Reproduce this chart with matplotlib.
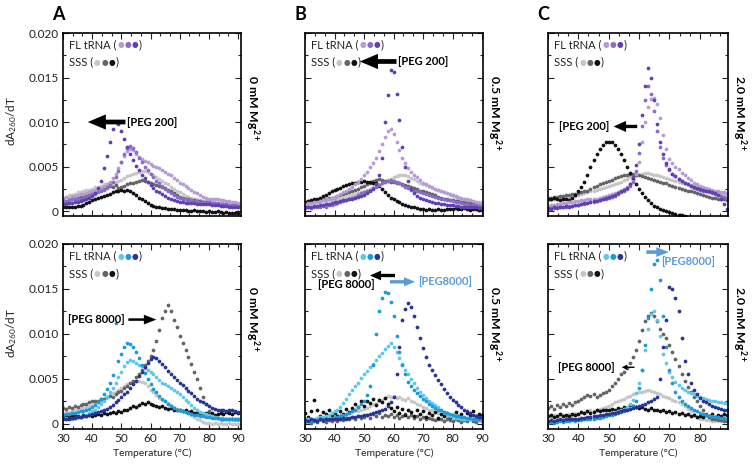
import matplotlib
matplotlib.use('Agg')
import matplotlib.pyplot as plt
from matplotlib.ticker import AutoMinorLocator
import numpy as np

plt.rcParams['font.family'] = ['Lato', 'DejaVu Sans']
plt.rcParams['mathtext.fontset'] = 'custom'
plt.rcParams['mathtext.rm'] = 'Lato'
plt.rcParams['mathtext.bf'] = 'Lato:bold'
plt.rcParams['mathtext.default'] = 'regular'

# temperature grid (deg C), one reading per degree
temps = list(range(30, 91))

# dA260/dT readings, in units of 1e-4
# ---- top row, PEG 200 ----
a1_fl_light = [15, 16, 15, 17, 17, 18, 19, 19, 20, 21, 22, 24, 24, 26, 28, 30, 33, 37, 42, 48,
               55, 62, 67, 70, 68, 64, 61, 58, 56, 55, 53, 51, 50, 48, 46, 44, 42, 40, 37, 35,
               32, 30, 28, 26, 24, 21, 20, 18, 16, 15, 14, 14, 13, 13, 12, 12, 11, 11, 10, 10, 9]
a1_fl_mid = [12, 11, 12, 13, 13, 14, 14, 15, 16, 17, 18, 19, 21, 22, 24, 26, 29, 33, 38, 45,
             55, 64, 71, 73, 71, 66, 60, 55, 50, 46, 42, 38, 34, 31, 28, 25, 22, 20, 18, 16,
             15, 14, 13, 12, 12, 11, 11, 10, 10, 10, 10, 9, 9, 9, 8, 8, 8, 7, 7, 6, 6]
a1_fl_dark = [8, 8, 9, 9, 10, 10, 11, 12, 13, 15, 17, 20, 26, 34, 48, 62, 78, 92, 100, 98,
              90, 81, 72, 64, 57, 51, 46, 41, 37, 33, 29, 26, 23, 21, 19, 17, 15, 13, 12, 11,
              10, 10, 9, 9, 9, 9, 8, 8, 8, 8, 8, 7, 7, 7, 6, 6, 6, 5, 5, 5, 4]
a1_sss_light = [15, 16, 18, 18, 19, 21, 21, 22, 24, 24, 25, 27, 27, 28, 30, 30, 31, 32, 33, 34,
                35, 37, 39, 41, 42, 43, 44, 45, 45, 44, 42, 40, 38, 36, 34, 32, 30, 27, 25, 23,
                21, 19, 17, 16, 15, 14, 13, 12, 11, 11, 10, 10, 9, 9, 8, 8, 8, 7, 7, 7, 6]
a1_sss_mid = [9, 10, 12, 13, 13, 15, 16, 17, 18, 19, 20, 21, 23, 24, 25, 27, 28, 27, 29, 26,
              27, 28, 30, 31, 32, 33, 34, 35, 34, 33, 31, 30, 29, 28, 27, 26, 24, 22, 20, 18,
              16, 15, 14, 13, 12, 12, 11, 11, 10, 10, 9, 9, 9, 8, 8, 8, 8, 7, 7, 7, 6]
a1_sss_dark = [5, 4, 5, 4, 5, 6, 6, 7, 9, 10, 12, 13, 15, 16, 17, 18, 19, 21, 22, 23,
               24, 23, 24, 22, 20, 18, 15, 13, 11, 9, 7, 6, 5, 4, 3, 3, 2, 2, 2, 1,
               1, 1, 1, 0, 0, 1, 0, 0, 0, -1, 0, -1, -1, 0, -1, -2, -1, -2, -2, -2, -2]

b1_fl_light = [8, 9, 9, 10, 10, 11, 12, 13, 14, 15, 16, 17, 19, 21, 23, 25, 27, 30, 33, 36,
               40, 44, 49, 54, 60, 67, 75, 83, 90, 92, 86, 78, 69, 60, 54, 48, 44, 41, 38, 35,
               32, 30, 28, 27, 25, 24, 22, 21, 20, 19, 18, 17, 16, 15, 14, 13, 12, 11, 10, 9, 8]
b1_fl_mid = [3, 4, 3, 5, 4, 5, 6, 5, 7, 7, 8, 9, 10, 11, 12, 13, 15, 16, 18, 20,
             21, 23, 24, 26, 27, 29, 31, 33, 34, 35, 34, 33, 31, 29, 27, 26, 24, 23, 22, 21,
             20, 19, 18, 17, 16, 15, 14, 13, 12, 12, 11, 10, 10, 9, 8, 8, 7, 7, 6, 6, 5]
b1_fl_dark = [4, 5, 5, 6, 6, 7, 7, 8, 8, 9, 10, 10, 11, 12, 12, 13, 14, 15, 16, 17,
              18, 20, 22, 25, 30, 40, 60, 100, 130, 158, 156, 132, 102, 72, 50, 34, 25, 20, 17, 15,
              13, 12, 11, 10, 9, 9, 8, 8, 7, 7, 7, 6, 6, 5, 5, 5, 4, 4, 4, 3, 3]
b1_sss_light = [8, 8, 9, 9, 10, 10, 11, 11, 12, 12, 12, 13, 14, 15, 16, 17, 18, 19, 20, 21,
                22, 24, 25, 27, 28, 30, 31, 33, 35, 36, 38, 39, 40, 41, 40, 39, 37, 36, 34, 32,
                30, 29, 28, 26, 25, 24, 22, 21, 20, 18, 17, 16, 15, 14, 13, 12, 12, 11, 10, 10, 10]
b1_sss_mid = [10, 11, 11, 12, 12, 13, 13, 14, 15, 15, 16, 17, 18, 19, 20, 21, 22, 24, 25, 27,
              28, 30, 32, 34, 35, 36, 35, 34, 34, 33, 33, 32, 31, 30, 29, 28, 27, 26, 25, 23,
              22, 21, 20, 19, 18, 16, 15, 14, 13, 12, 12, 11, 11, 10, 10, 9, 9, 9, 8, 8, 8]
b1_sss_dark = [10, 11, 12, 13, 14, 15, 17, 18, 20, 22, 24, 25, 26, 28, 29, 30, 31, 32, 33, 33,
               34, 33, 33, 32, 31, 28, 25, 21, 18, 15, 13, 11, 10, 8, 7, 6, 5, 4, 3, 2,
               2, 1, 2, 1, 1, 2, 1, 1, 2, 2, 2, 3, 2, 2, 3, 2, 1, 2, 2, 1, 2]

c1_fl_light = [6, 7, 7, 8, 8, 9, 9, 10, 10, 11, 11, 12, 12, 13, 13, 14, 14, 15, 16, 17,
               18, 19, 20, 21, 23, 25, 27, 30, 34, 42, 55, 78, 100, 117, 126, 127, 120, 104, 85, 70,
               58, 54, 50, 47, 43, 40, 37, 35, 32, 30, 28, 27, 26, 25, 24, 23, 22, 21, 21, 20, 20]
c1_fl_mid = [2, 3, 3, 4, 4, 5, 5, 6, 6, 7, 7, 8, 8, 9, 10, 10, 11, 12, 13, 14,
             15, 16, 17, 19, 21, 23, 25, 28, 33, 45, 65, 95, 125, 140, 132, 112, 90, 72, 60, 52,
             46, 42, 39, 36, 34, 32, 30, 28, 26, 25, 24, 23, 22, 21, 20, 19, 18, 17, 16, 15, 14]
c1_fl_dark = [3, 2, 4, 3, 5, 4, 6, 5, 6, 7, 7, 8, 9, 9, 10, 11, 11, 12, 13, 15,
              16, 17, 18, 20, 22, 24, 26, 30, 38, 52, 75, 108, 140, 161, 150, 125, 98, 78, 64, 54,
              47, 42, 39, 36, 34, 32, 30, 28, 27, 26, 25, 24, 23, 22, 21, 20, 18, 14, 8, 2, -4]
c1_sss_light = [12, 12, 13, 13, 14, 14, 15, 15, 16, 17, 18, 19, 20, 21, 22, 23, 24, 25, 26, 27,
                28, 29, 30, 32, 33, 35, 36, 38, 39, 40, 41, 42, 43, 43, 42, 41, 40, 39, 38, 37,
                36, 35, 34, 33, 32, 31, 30, 29, 28, 27, 26, 25, 24, 23, 22, 21, 20, 19, 19, 18, 18]
c1_sss_mid = [15, 15, 16, 16, 17, 17, 18, 18, 19, 19, 20, 21, 22, 23, 25, 27, 28, 30, 31, 33,
              34, 35, 37, 38, 39, 40, 41, 42, 42, 41, 40, 39, 38, 37, 36, 35, 34, 33, 32, 31,
              29, 28, 27, 26, 25, 24, 23, 22, 21, 20, 19, 18, 17, 16, 15, 15, 14, 13, 13, 12, 12]
c1_sss_dark = [14, 13, 15, 14, 12, 13, 14, 12, 15, 18, 22, 27, 33, 41, 49, 57, 64, 70, 74, 77,
               78, 77, 74, 70, 64, 57, 50, 43, 36, 30, 25, 20, 16, 12, 9, 6, 4, 2, 1, 0,
               -1, -2, -3, -4, -5, -6, None, None, None, None, None, None, None, None, None,
               None, None, None, None, None, None]

# ---- bottom row, PEG 8000 ----
a2_fl_light = [5, 5, 6, 6, 7, 8, 8, 9, 10, 12, 14, 16, 19, 22, 26, 30, 35, 40, 46, 52,
               58, 64, 69, 71, 70, 68, 66, 64, 62, 60, 58, 55, 52, 49, 46, 44, 42, 40, 38, 36,
               33, 30, 27, 24, 21, 18, 15, 13, 12, 11, 10, 9, 8, 7, 7, 6, 6, 5, 5, 4, 4]
a2_fl_mid = [10, 11, 11, 12, 12, 13, 14, 14, 15, 17, 19, 21, 24, 28, 33, 39, 46, 54, 112, 70,
             78, 85, 90, 89, 86, 80, 73, 65, 57, 50, 44, 39, 35, 31, 28, 25, 22, 20, 18, 16,
             15, 14, 13, 12, 11, 10, 10, 9, 9, 8, 8, 7, 7, 7, 6, 6, 6, 5, 5, 5, 5]
a2_fl_dark = [5, 6, 6, 7, 7, 8, 8, 9, 9, 10, 11, 12, 13, 14, 15, 17, 19, 21, 24, 27,
              30, 33, 36, 40, 44, 48, 53, 58, 63, 68, 72, 74, 73, 70, 67, 63, 59, 55, 52, 49,
              46, 43, 40, 37, 34, 31, 28, 26, 24, 22, 20, 18, 17, 16, 15, 15, 14, 15, 15, 14, 13]
a2_sss_light = [12, 13, 13, 14, 15, 16, 17, 18, 19, 20, 21, 23, 24, 26, 28, 30, 32, 34, 36, 38,
                40, 42, 44, 46, 47, 48, 48, 47, 45, 42, 38, 35, 32, 29, 27, 25, 23, 21, 19, 17,
                15, 14, 13, 12, 10, 8, 6, 4, 2, 1, 1, 0, 1, 0, 1, 0, 0, 1, 0, 0, 0]
a2_sss_mid = [18, 17, 19, 18, 20, 19, 21, 22, 22, 24, 25, 26, 26, 28, 28, 30, 31, 30, 33, 35,
              37, 40, 42, 45, 48, 52, 56, 60, 66, 70, 75, 82, 92, 104, 118, 125, 132, 126, 116, 108,
              98, 90, 82, 74, 67, 58, 50, 40, 30, 22, 14, 10, 8, 7, 6, 6, 5, 5, 5, 5, 5]
a2_sss_dark = [9, 10, 8, 9, 10, 9, 8, 10, 9, 10, 9, 10, 11, 10, 12, 11, 12, 13, 12, 14,
               13, 15, 16, 18, 20, 19, 21, 23, 22, 24, 22, 21, 20, 19, 20, 18, 17, 18, 16, 15,
               16, 14, 15, 13, 14, 12, 13, 12, 11, 12, 11, 12, 10, 11, 12, 11, 13, 12, 11, 13, 12]

b2_fl_light = [5, 5, 6, 6, 7, 8, 8, 9, 10, 12, 14, 16, 19, 23, 28, 33, 38, 42, 46, 51,
               55, 59, 63, 67, 71, 75, 79, 83, 87, 90, 86, 80, 73, 67, 60, 55, 50, 45, 40, 36,
               32, 29, 26, 23, 21, 19, 16, 13, 11, 9, 8, 7, 7, 6, 6, 6, 5, 5, 5, 4, 4]
b2_fl_mid = [2, 3, 3, 4, 4, 5, 5, 6, 6, 7, 7, 8, 9, 10, 11, 12, 14, 16, 19, 22,
             25, 32, 42, 65, 100, 125, 140, 147, 146, 135, 120, 98, 80, 65, 55, 47, 42, 38, 34, 31,
             28, 25, 22, 20, 18, 16, 15, 13, 12, 11, 10, 9, 9, 8, 8, 7, 7, 6, 6, 5, 5]
b2_fl_dark = [4, 3, 5, 4, 3, 5, 4, 5, 6, 5, 5, 6, 6, 7, 6, 7, 8, 8, 9, 9,
              10, 10, 11, 12, 13, 14, 15, 17, 20, 24, 30, 55, 85, 115, 128, 134, 130, 120, 108, 96,
              84, 74, 66, 60, 54, 49, 44, 39, 34, 30, 27, 24, 21, 19, 16, 14, 12, 10, 9, 8, 8]
b2_sss_light = [4, 3, 5, 4, 6, 5, 6, 7, 6, 8, 8, 9, 10, 11, 10, 12, 13, 15, 14, 16,
                17, 18, 20, 22, 23, 25, 27, 29, 31, 30, 31, 29, 30, 28, 27, 29, 26, 24, 22, 21,
                19, 18, 16, 15, 13, 12, 11, 10, 9, 8, 8, 7, 7, 6, 6, 5, 6, 5, 5, 4, 5]
b2_sss_mid = [2, 4, 1, 3, 2, 5, 3, 2, 4, 3, 5, 3, 6, 4, 7, 5, 8, 6, 9, 7,
              8, 10, 7, 11, 9, 12, 8, 10, 9, 11, 8, 10, 7, 9, 11, 8, 10, 7, 9, 6,
              8, 5, 7, 6, 4, 6, 5, 3, 5, 4, 3, 5, 4, 2, 4, 3, 5, 3, 2, 4, 3]
b2_sss_dark = [12, 8, 14, 27, 16, 9, 13, 11, 15, 10, 12, 9, 14, 11, 17, 13, 18, 22, 19, 25,
               20, 26, 23, 28, 21, 27, 24, 29, 22, 18, 14, 19, 12, 17, 10, 15, 13, 9, 16, 11,
               14, 8, 12, 10, 13, 7, 11, 9, 12, 8, 10, 13, 9, 11, 7, 12, 10, 14, 9, 11, 10]

c2_fl_light = [2, 3, 2, 3, 4, 3, 4, 4, 5, 4, 5, 5, 6, 6, 7, 7, 8, 8, 9, 10,
               11, 12, 13, 14, 15, 17, 19, 22, 27, 34, 45, 60, 82, 105, 122, 125, 116, 98, 78, 68,
               58, 52, 47, 43, 40, 38, 36, 34, 33, 31, 30, 29, 28, 27, 26, 25, 24, 24, 23, 23, 22]
c2_fl_mid = [1, 2, 1, 2, 3, 2, 3, 3, 4, 3, 4, 4, 5, 5, 6, 6, 7, 7, 8, 9,
             10, 10, 11, 12, 13, 14, 15, 17, 20, 25, 40, 60, 88, 118, 150, 178, 182, 160, 120, 85,
             60, 45, 36, 30, 25, 22, 20, 18, 16, 14, 12, 11, 10, 9, 9, 8, 8, 7, 7, 6, 6]
c2_fl_dark = [3, 4, 3, 4, 5, 4, 5, 5, 6, 6, 6, 7, 7, 8, 8, 9, 9, 10, 10, 11,
              11, 12, 12, 13, 14, 15, 16, 17, 18, 19, 20, 21, 22, 24, 26, 28, 30, 50, 85, 115,
              152, 150, 140, 125, 95, 70, 55, 45, 38, 33, 29, 26, 24, 22, 20, 19, 18, 17, 16, 16, 15]
c2_sss_light = [9, 8, 10, 9, 11, 10, 9, 11, 10, 12, 11, 13, 12, 14, 15, 14, 16, 17, 18, 19,
                20, 22, 24, 25, 27, 28, 30, 31, 33, 34, 35, 36, 37, 38, 37, 36, 34, 33, 31, 30,
                29, 27, 26, 24, 22, 20, 17, 14, 11, 8, 6, 5, 4, 4, 3, 3, 4, 3, 3, 4, 3]
c2_sss_mid = [18, 20, 17, 21, 19, 22, 20, 23, 21, 24, 26, 28, 30, 32, 31, 33, 30, 32, 34, 36,
              38, 42, 46, 50, 55, 58, 62, 68, 74, 82, 92, 104, 114, 120, 123, 120, 114, 106, 100, 95,
              88, 80, 72, 64, 56, 48, 41, 35, 30, 25, 20, 15, 11, 8, 6, 5, 4, 4, 3, 3, 3]
c2_sss_dark = [9, 10, 8, 9, 11, 9, 10, 9, 11, 10, 11, 13, 12, 14, 12, 13, 15, 14, 16, 15,
               16, 17, 15, 18, 17, 19, 18, 21, 20, 19, 18, 19, 17, 16, 18, 15, 16, 14, 15, 13,
               14, 12, 13, 11, 12, 10, 11, 9, 10, 8, 9, 8, 10, 9, 11, 8, 10, 9, 11, 10, 10]

x_ticks_abc = [list(range(30, 91, 10)), list(range(30, 91, 10)), list(range(30, 81, 10))]
y_ticks = [0, 0.005, 0.010, 0.015, 0.020]
y_tick_labels = ['0', '0.005', '0.010', '0.015', '0.020']
mg_labels = ['0 mM Mg$^{2+}$', '0.5 mM Mg$^{2+}$', '2.0 mM Mg$^{2+}$']
panel_letters = ['A', 'B', 'C']

purples = ['#b69bd8', '#8a6cc8', '#6041b2']
blues = ['#5ec8ec', '#1f9ad8', '#2a3494']
grays = ['#c6c6c6', '#646464', '#111111']

fl_sets = [[[a1_fl_light, a1_fl_mid, a1_fl_dark], [b1_fl_light, b1_fl_mid, b1_fl_dark],
            [c1_fl_light, c1_fl_mid, c1_fl_dark]],
           [[a2_fl_light, a2_fl_mid, a2_fl_dark], [b2_fl_light, b2_fl_mid, b2_fl_dark],
            [c2_fl_light, c2_fl_mid, c2_fl_dark]]]
sss_sets = [[[a1_sss_light, a1_sss_mid, a1_sss_dark], [b1_sss_light, b1_sss_mid, b1_sss_dark],
             [c1_sss_light, c1_sss_mid, c1_sss_dark]],
            [[a2_sss_light, a2_sss_mid, a2_sss_dark], [b2_sss_light, b2_sss_mid, b2_sss_dark],
             [c2_sss_light, c2_sss_mid, c2_sss_dark]]]

fig = plt.figure(figsize=(7.54, 4.67), dpi=100)

W, H = 754.0, 467.0
lefts = [63, 305, 548]
widths = [178, 178, 180]
row_tops = [33, 244]
row_bottoms = [216, 429]
xmax = [91, 90.3, 89.3]


def legend_row(ax, y, label, colors):
    t = ax.text(0.035, y, label + ' (', transform=ax.transAxes, fontsize=8,
                va='center', ha='left', color='#222222')
    prev = t
    for c in colors:
        prev = ax.annotate('●', xy=(1, 0.5), xycoords=prev, xytext=(0.4, 0),
                           textcoords='offset points', fontsize=5.5, color=c,
                           va='center', ha='left', family='DejaVu Sans')
    ax.annotate(')', xy=(1, 0.5), xycoords=prev, xytext=(0.4, 0),
                textcoords='offset points', fontsize=8, va='center', ha='left',
                color='#222222')


def arrow(ax, tail, head, color='black', hl=13, hw=11, tw=3.4):
    # sizes in points
    ax.annotate('', xy=head, xytext=tail,
                arrowprops=dict(arrowstyle='simple,head_length=%g,head_width=%g,tail_width=%g'
                                % (hl, hw, tw),
                                lw=0, fc=color, ec='none', shrinkA=0, shrinkB=0,
                                mutation_scale=1))


axes = [[None] * 3, [None] * 3]
for r in range(2):
    for c in range(3):
        rect = [lefts[c] / W, (H - row_bottoms[r]) / H, widths[c] / W,
                (row_bottoms[r] - row_tops[r]) / H]
        ax = fig.add_axes(rect)
        axes[r][c] = ax
        fl_colors = purples if r == 0 else blues
        for vals, col in zip(sss_sets[r][c], grays):
            ax.plot(temps, np.array(vals, dtype=float) * 1e-4, 'o', ms=2.7, mew=0, color=col)
        for vals, col in zip(fl_sets[r][c], fl_colors):
            ax.plot(temps, np.array(vals, dtype=float) * 1e-4, 'o', ms=2.7, mew=0, color=col)

        ax.set_xlim(30, xmax[c])
        ax.set_ylim(-0.00056, 0.020)
        ax.set_xticks(x_ticks_abc[c])
        ax.xaxis.set_minor_locator(AutoMinorLocator(3))
        ax.set_yticks(y_ticks)
        ax.yaxis.set_minor_locator(AutoMinorLocator(2))
        ax.tick_params(which='both', direction='in', top=True, right=True, width=0.8,
                       labelsize=8.5, pad=3, colors='#222222')
        ax.tick_params(which='major', length=4)
        ax.tick_params(which='minor', length=2.2)
        for sp in ax.spines.values():
            sp.set_linewidth(1.2)
        if c == 0:
            ax.set_yticklabels(y_tick_labels)
            ax.set_ylabel('dA$_{260}$/dT', fontsize=8.5, color='#222222')
            ax.yaxis.set_label_coords(-0.245, 0.52)
        else:
            ax.tick_params(labelleft=False)
        if r == 0:
            ax.tick_params(labelbottom=False)
        else:
            ax.set_xlabel('Temperature (°C)', fontsize=7.5, labelpad=3, color='#222222')

        legend_row(ax, 0.935, 'FL tRNA', fl_colors)
        legend_row(ax, 0.84, 'SSS', grays)

        fig.text((lefts[c] + widths[c] + 11) / W, (H - (row_tops[r] + 42)) / H, mg_labels[c],
                 rotation=270, ha='center', va='top', fontsize=8.8, fontweight='bold')

for c in range(3):
    fig.text((lefts[c] - 5) / W, 1 - 15 / H, panel_letters[c], fontsize=13,
             fontweight='bold', ha='center', va='center')

bold = dict(fontsize=8, fontweight='bold', va='center')
peg_blue = '#5b9bd5'

# A top
ax = axes[0][0]
arrow(ax, (51.4, 0.0100), (38.5, 0.0100))
ax.text(51.9, 0.0100, '[PEG 200]', ha='left', **bold)
# B top
ax = axes[0][1]
arrow(ax, (61.0, 0.0168), (48.6, 0.0168))
ax.text(61.5, 0.0168, '[PEG 200]', ha='left', **bold)
# C top
ax = axes[0][2]
arrow(ax, (59.4, 0.0095), (51.6, 0.0095), hl=9, hw=8, tw=2.4)
ax.text(50.3, 0.0095, '[PEG 200]', ha='right', **bold)
# A bottom
ax = axes[1][0]
ax.text(31.8, 0.0116, '[PEG 8000]', ha='left', **bold)
arrow(ax, (52.4, 0.0116), (62.0, 0.0116), hl=9, hw=7, tw=1.8)
# B bottom
ax = axes[1][1]
arrow(ax, (60.5, 0.0165), (52.0, 0.0165), hl=8, hw=7, tw=2.4)
ax.text(34.3, 0.0155, '[PEG 8000]', ha='left', **bold)
arrow(ax, (58.8, 0.0158), (67.3, 0.0158), color=peg_blue, hl=8, hw=6.5, tw=2.4)
ax.text(68.2, 0.0158, '[PEG8000]', ha='left', color=peg_blue, fontsize=8,
        fontweight='bold', va='center')
# C bottom
ax = axes[1][2]
arrow(ax, (62.4, 0.0191), (69.8, 0.0191), color=peg_blue, hl=9, hw=7, tw=2.6)
ax.text(67.2, 0.0180, '[PEG8000]', ha='left', color=peg_blue, fontsize=8,
        fontweight='bold', va='center')
ax.text(33.2, 0.0063, '[PEG 8000]', ha='left', **bold)
arrow(ax, (58.5, 0.0063), (54.3, 0.0063), hl=4, hw=4, tw=1.0)

fig.savefig('out.png', dpi=100)
